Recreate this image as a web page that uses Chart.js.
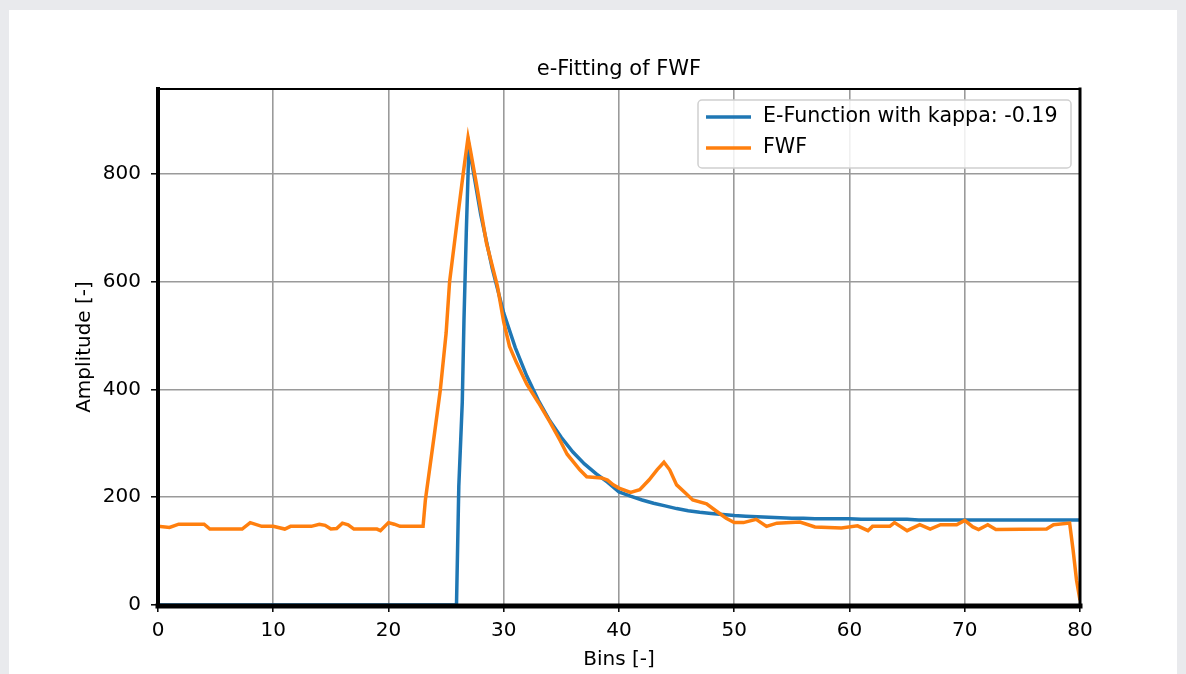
<!DOCTYPE html>
<html><head><meta charset="utf-8">
<script src="https://cdn.jsdelivr.net/npm/chart.js@4/dist/chart.umd.min.js"></script>
<style>
html,body{margin:0;padding:0;background:#e9eaed;width:1186px;height:674px;overflow:hidden}
#card{position:absolute;left:9px;top:10px;width:1168px;height:700px;background:#fff}
#c{position:absolute;left:0;top:0}
</style></head><body><div id="card"></div><canvas id="c" width="1186" height="674"></canvas>
<script>
const chartTitle = 'e-Fitting of FWF';
const xTitle = 'Bins [-]';
const yTitle = 'Amplitude [-]';
const eFuncLabel = 'E-Function with kappa: -0.19';
const fwfLabel = 'FWF';

const xTicks = [0, 10, 20, 30, 40, 50, 60, 70, 80];
const yTicks = [0, 200, 400, 600, 800];

const eFuncX = [0, 25.9, 26.1, 26.4, 26.55, 26.75, 26.95, 27, 28, 29, 30, 31, 32, 33, 34, 35, 36, 37, 38, 39, 40,
  41, 42, 43, 44, 45, 46, 47, 48, 49, 50, 51, 52, 53, 54, 55, 56, 57, 58, 59, 60,
  61, 62, 63, 64, 65, 66, 67, 68, 69, 70, 71, 72, 73, 74, 75, 76, 77, 78, 79, 80];
const eFuncY = [0, 0, 220, 376, 530, 692, 834, 850, 725, 625, 542, 478, 425, 380, 342, 311, 284, 262, 244, 228, 210,
  202, 195, 189, 184, 179, 175, 172, 170, 168, 166, 165, 164, 163, 162, 161, 161, 160, 160, 160, 160,
  159, 159, 159, 159, 159, 158, 158, 158, 158, 158, 158, 158, 158, 158, 158, 158, 158, 158, 158, 158];

const fwfX = [0, 1, 1.8, 4, 4.5, 7.3, 8, 9, 10, 11, 11.5, 13.3, 14, 14.5, 15, 15.5, 16, 16.5, 17, 19, 19.3, 20, 20.5, 21, 23,
  23.2, 24, 24.5, 25, 25.3, 26, 26.5, 26.9, 27.1, 27.6, 28.5, 29.45, 30, 30.5, 31.1, 32, 33, 34, 34.9, 35.5, 36.6, 37.2,
  38.5, 39, 39.5, 40, 41, 41.8, 42.6, 43.3, 43.9, 44.4, 45, 45.9, 46.4, 47.6, 48.4, 49.3, 50, 50.8, 51.9, 52.8, 53.7,
  55.7, 57, 59.3, 60.7, 61.6, 62, 63.5, 63.9, 65, 66.1, 67, 67.9, 69.3, 70, 70.7, 71.2, 72, 72.7, 77.1, 77.7, 79.1,
  79.4, 79.7, 80];
const fwfY = [146, 144, 150, 150, 141, 141, 153, 146, 146, 141, 146, 146, 150, 148, 141, 142, 152, 149, 141, 141, 138, 153, 150, 146, 146,
  195, 320, 400, 505, 600, 720, 804, 868, 845, 785, 672, 592, 525, 480, 450, 410, 376, 340, 305, 280, 251, 238,
  236, 232, 223, 217, 209, 214, 232, 251, 265, 251, 223, 205, 195, 188, 175, 161, 153, 153, 159, 146, 152,
  154, 145, 143, 147, 138, 146, 146, 153, 138, 149, 141, 149, 149, 157, 145, 140, 149, 140, 141, 149, 152,
  102, 46, 9];

const BLUE = '#1f77b4';
const ORANGE = '#ff7f0e';

function pts(xs, ys) { return xs.map((x, i) => ({ x: x, y: ys[i] })); }

Chart.defaults.font.family = "'DejaVu Sans', sans-serif";
Chart.defaults.font.size = 20;
Chart.defaults.color = '#000';

const framePlugin = {
  id: 'frame',
  afterDatasetsDraw(chart) {
    const { ctx, chartArea: a } = chart;
    ctx.save();
    ctx.strokeStyle = '#000';
    ctx.lineCap = 'square';
    ctx.lineWidth = 2;
    ctx.beginPath(); ctx.moveTo(a.left, a.top); ctx.lineTo(a.right, a.top); ctx.stroke();
    ctx.lineWidth = 3;
    ctx.beginPath(); ctx.moveTo(a.right, a.top); ctx.lineTo(a.right, a.bottom); ctx.stroke();
    ctx.lineWidth = 4;
    ctx.beginPath(); ctx.moveTo(a.left, a.top); ctx.lineTo(a.left, a.bottom); ctx.stroke();
    ctx.lineWidth = 5;
    ctx.beginPath(); ctx.moveTo(a.left, a.bottom + 1); ctx.lineTo(a.right, a.bottom + 1); ctx.stroke();

    // title
    ctx.fillStyle = '#000';
    ctx.font = "21px 'DejaVu Sans', sans-serif";
    ctx.textAlign = 'center';
    ctx.textBaseline = 'middle';
    ctx.fillText(chartTitle, (a.left + a.right) / 2, a.top - 19);

    // legend
    const w = 373, h = 68;
    const bx = a.right - 9 - w, by = a.top + 11;
    ctx.fillStyle = 'rgba(255,255,255,0.85)';
    ctx.strokeStyle = '#d0d0d0';
    ctx.lineWidth = 1.5;
    ctx.beginPath();
    ctx.roundRect(bx, by, w, h, 4);
    ctx.fill(); ctx.stroke();
    const items = chart.data.datasets.map(d => ({ label: d.label, color: d.borderColor, idx: d.legendIndex }))
      .sort((p, q) => p.idx - q.idx);
    ctx.font = "20.6px 'DejaVu Sans', sans-serif";
    ctx.textBaseline = 'middle';
    ctx.textAlign = 'left';
    items.forEach((it, i) => {
      const yy = by + 17 + i * 31;
      ctx.strokeStyle = it.color;
      ctx.lineWidth = 3.5;
      ctx.lineCap = 'butt';
      ctx.beginPath(); ctx.moveTo(bx + 8, yy); ctx.lineTo(bx + 53, yy); ctx.stroke();
      ctx.fillStyle = '#000';
      ctx.fillText(it.label, bx + 65, yy);
    });
    ctx.restore();
  }
};

new Chart(document.getElementById('c'), {
  type: 'line',
  data: {
    datasets: [
      { label: eFuncLabel, data: pts(eFuncX, eFuncY), borderColor: BLUE, backgroundColor: BLUE,
        borderWidth: 3.5, pointRadius: 0, tension: 0, order: 2, legendIndex: 0, fill: false },
      { label: fwfLabel, data: pts(fwfX, fwfY), borderColor: ORANGE, backgroundColor: ORANGE,
        borderWidth: 3.5, pointRadius: 0, tension: 0, order: 1, legendIndex: 1, fill: false }
    ]
  },
  options: {
    responsive: false,
    animation: false,
    devicePixelRatio: 1,
    layout: { padding: { left: 68, right: 106, top: 89, bottom: 2 } },
    plugins: {
      legend: { display: false },
      tooltip: { enabled: false },
      title: { display: false }
    },
    scales: {
      x: {
        type: 'linear', min: 0, max: 80,
        afterBuildTicks(s) { s.ticks = xTicks.map(v => ({ value: v })); },
        afterFit(s) { s.height = 67; },
        ticks: { padding: 7, maxRotation: 0, color: '#000', font: { size: 20 } },
        grid: { color: '#9a9a9a', lineWidth: 1.6, tickColor: '#000', tickLength: 7, tickWidth: 1.5 },
        border: { display: false },
        title: { display: true, text: xTitle, color: '#000', font: { size: 20 }, padding: { top: 0, bottom: 0 } }
      },
      y: {
        type: 'linear', min: 0, max: 958,
        afterBuildTicks(s) { s.ticks = yTicks.map(v => ({ value: v })); },
        afterFit(s) { s.width = 90; },
        ticks: { padding: 10, color: '#000', font: { size: 20 } },
        grid: { color: '#9a9a9a', lineWidth: 1.6, tickColor: '#000', tickLength: 7, tickWidth: 1.5 },
        border: { display: false },
        title: { display: true, text: yTitle, color: '#000', font: { size: 20 }, padding: { top: 5, bottom: 0 } }
      }
    }
  },
  plugins: [framePlugin]
});
</script>
</body></html>
